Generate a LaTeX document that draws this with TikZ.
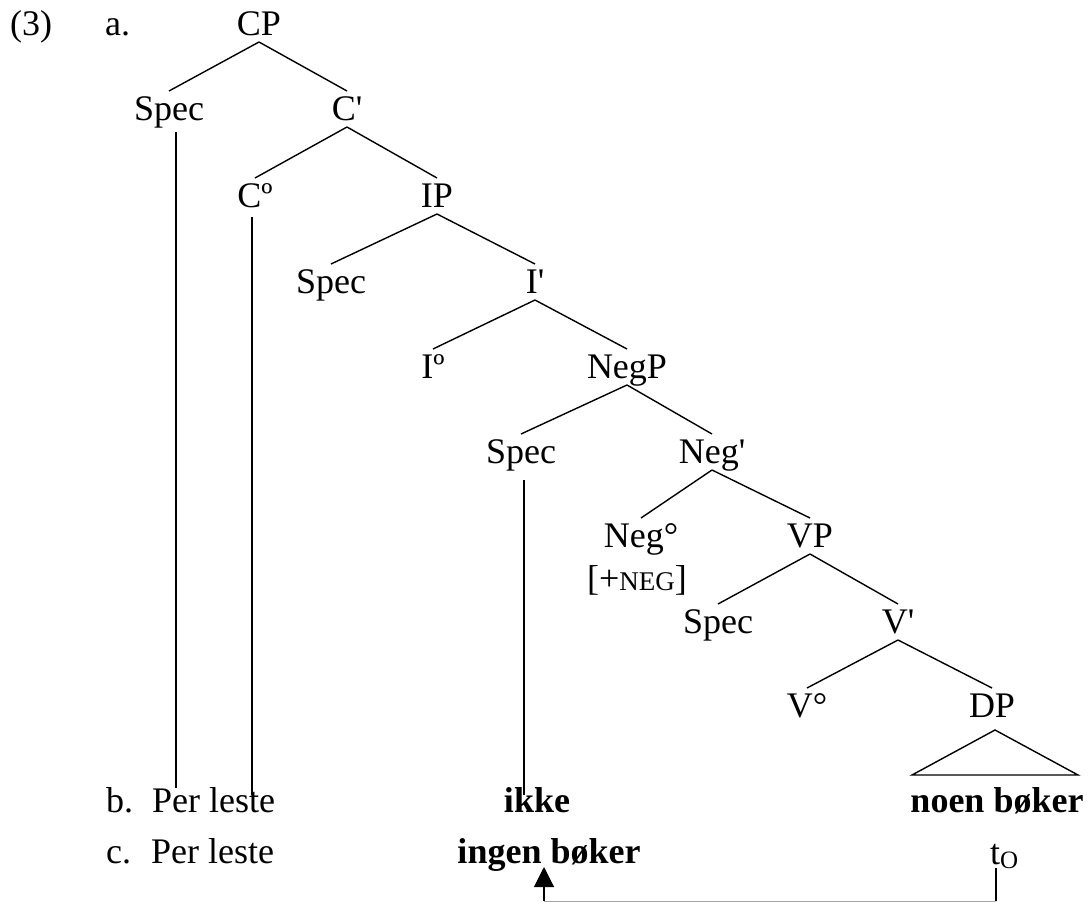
\documentclass[tikz,border=0pt]{standalone}
\usepackage{fontspec}
\setmainfont{Liberation Serif}
\usetikzlibrary{arrows.meta}
\newcommand\treebranch[2]{\draw[branch] ([yshift=-7pt]#1.base) -- ([yshift=29pt]#2.base);}
\newcommand\pr{\textquotesingle}
\begin{document}
\begin{tikzpicture}[x=1pt,y=-1pt,
  every node/.style={inner sep=0pt,font=\fontsize{36}{40}\selectfont},
  lab/.style={anchor=base},
  lw/.style={anchor=base west},
  branch/.style={line width=1.4pt},
  stem/.style={line width=1.1pt},
  trace/.style={line width=0.8pt,black!35}]
\useasboundingbox (0,0) rectangle (1090,902);

% example number and sub-labels
\node[lw] (num) at (10,35) {(3)};
\node[lw] (la) at (105,35) {a.};

% tree
\node[lab] (CP)    at (259,35)  {CP};
\node[lab] (spA)   at (169,120) {Spec};
\node[lab] (Cbar)  at (347,120) {C\pr};
\node[lab] (C0)    at (255,207) {Cº};
\node[lab] (IP)    at (437,207) {IP};
\node[lab] (spB)   at (331,293) {Spec};
\node[lab] (Ibar)  at (535,293) {I\pr};
\node[lab] (I0)    at (433,378) {Iº};
\node[lab] (NegP)  at (627,378) {NegP};
\node[lab] (spC)   at (521,463) {Spec};
\node[lab] (Negbar) at (712,463) {Neg\pr};
\node[lab] (Neg0)  at (641,547) {Neg°};
\node[lab] (feat)  at (637,590) {[+{\fontsize{27}{30}\selectfont NEG}]};
\node[lab] (VP)    at (810,547) {VP};
\node[lab] (spD)   at (718,633) {Spec};
\node[lab] (Vbar)  at (898,633) {V\pr};
\node[lab] (V0)    at (807,717) {V°};
\node[lab] (DP)    at (992,717) {DP};

\treebranch{CP}{spA}
\treebranch{CP}{Cbar}
\treebranch{Cbar}{C0}
\treebranch{Cbar}{IP}
\treebranch{IP}{spB}
\treebranch{IP}{Ibar}
\treebranch{Ibar}{I0}
\treebranch{Ibar}{NegP}
\treebranch{NegP}{spC}
\treebranch{NegP}{Negbar}
\treebranch{Negbar}{Neg0}
\treebranch{Negbar}{VP}
\treebranch{VP}{spD}
\treebranch{VP}{Vbar}
\treebranch{Vbar}{V0}
\treebranch{Vbar}{DP}

% roof over the object DP
\draw[branch] ([xshift=3pt,yshift=-13pt]DP.base) -- ++(-83,45) -- ++(166,0) -- cycle;

% sentence rows
\node[lw] (lb) at (106,812) {b.};
\node[lw] (bper) at (152,812) {Per leste};
\node[lab] (ikke) at (537,812) {\bfseries ikke};
\node[lab] (noen) at (997,812) {\bfseries noen bøker};

\node[lw] (lc) at (106,863) {c.};
\node[lw] (cper) at (151,863) {Per leste};
\node[lab] (ingen) at (549,863) {\bfseries ingen bøker};
\node[lw] (tO) at (990,864) {t\raisebox{-4pt}{\fontsize{25}{28}\selectfont O}};

% association lines down to the words
\coordinate (footA) at (176,788);
\coordinate (footC) at (252,795);
\coordinate (footS) at (524,795);
\draw[stem] ([xshift=7pt,yshift=-12pt]spA.base) -- (footA);
\draw[stem] ([xshift=-3pt,yshift=-10pt]C0.base) -- (footC);
\draw[stem] ([xshift=3pt,yshift=-17pt]spC.base) -- (footS);

% movement of the object
\coordinate (ttop) at (996,868);
\coordinate (tfoot) at (996,901);
\coordinate (afoot) at (544,901);
\coordinate (atip) at (544,867);
\draw[trace] (tfoot) -- (afoot);
\draw[stem] (ttop) -- (tfoot);
\draw[stem,-{Triangle[width=20pt,length=20pt]}] (afoot) -- (atip);
\end{tikzpicture}
\end{document}
